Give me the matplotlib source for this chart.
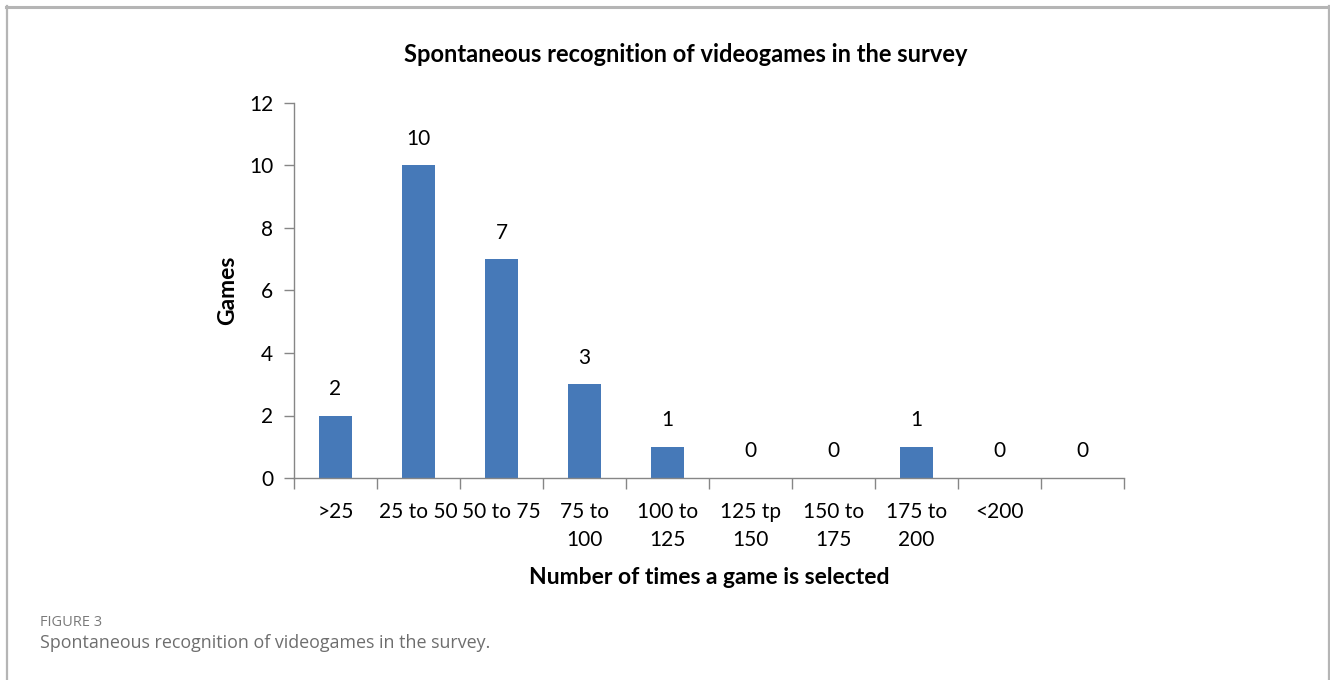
import matplotlib
matplotlib.use("Agg")
import matplotlib.pyplot as plt
import numpy as np

categories = [">25", "25 to 50", "50 to 75", "75 to\n100", "100 to\n125",
              "125 tp\n150", "150 to\n175", "175 to\n200", "<200", ""]
values = [2, 10, 7, 3, 1, 0, 0, 1, 0, 0]
yticks = [0, 2, 4, 6, 8, 10, 12]

plt.rcParams['font.family'] = ['Lato', 'DejaVu Sans']

W, H = 1330, 680
fig = plt.figure(figsize=(W / 100, H / 100), dpi=100)
fig.patch.set_facecolor('white')

# frame lines of figure panel
border = '#b5b5b5'
fig.add_artist(plt.Line2D([6 / W, 1329 / W], [1 - 6.5 / H, 1 - 6.5 / H], color=border, lw=2.2))
fig.add_artist(plt.Line2D([6.5 / W, 6.5 / W], [0, 1 - 6 / H], color=border, lw=1.6))
fig.add_artist(plt.Line2D([1328.5 / W, 1328.5 / W], [0, 1 - 6 / H], color=border, lw=1.6))

left, right, top, bottom = 294, 1124, 103, 478
ax = fig.add_axes([left / W, 1 - bottom / H, (right - left) / W, (bottom - top) / H])

x = np.arange(len(categories))
ax.bar(x, values, width=0.4, color='#4679b8', zorder=2)
ax.set_xlim(-0.5, len(categories) - 0.5)
ax.set_ylim(0, 12)
ax.set_yticks(yticks)
ax.set_yticklabels([str(v) for v in yticks], fontsize=15)

ax.set_xticks(x)
ax.set_xticklabels(categories, fontsize=15, linespacing=1.55, va='top')
ax.set_xticks(np.arange(len(categories) + 1) - 0.5, minor=True)
ax.tick_params(axis='x', which='major', length=0, pad=17)
ax.tick_params(axis='x', which='minor', length=8, color='#868686', width=1, direction='out')
ax.tick_params(axis='y', length=7, color='#868686', width=1, direction='out', pad=8)

for s in ['top', 'right']:
    ax.spines[s].set_visible(False)
for s in ['left', 'bottom']:
    ax.spines[s].set_color('#868686')
    ax.spines[s].set_linewidth(1)

for xi, v in zip(x, values):
    ax.annotate(str(v), (xi, v), xytext=(0, 12), textcoords='offset points',
                ha='center', va='bottom', fontsize=15)

ax.set_ylabel('Games', fontsize=16.5, fontweight='bold', labelpad=8)
ax.set_xlabel('Number of times a game is selected', fontsize=16.5, fontweight='bold', labelpad=12)

fig.text(686 / W, 1 - 55 / H, 'Spontaneous recognition of videogames in the survey',
         ha='center', va='center', fontsize=17, fontweight='bold')

fig.text(40 / W, 1 - 622 / H, 'FIGURE 3', ha='left', va='center', fontsize=10.5,
         color='#7a7a7a', family=['Open Sans', 'DejaVu Sans'])
fig.text(40 / W, 1 - 643 / H, 'Spontaneous recognition of videogames in the survey.',
         ha='left', va='center', fontsize=12.9, color='#6e6e6e',
         family=['Open Sans', 'DejaVu Sans'])

fig.savefig('out.png', dpi=100)
